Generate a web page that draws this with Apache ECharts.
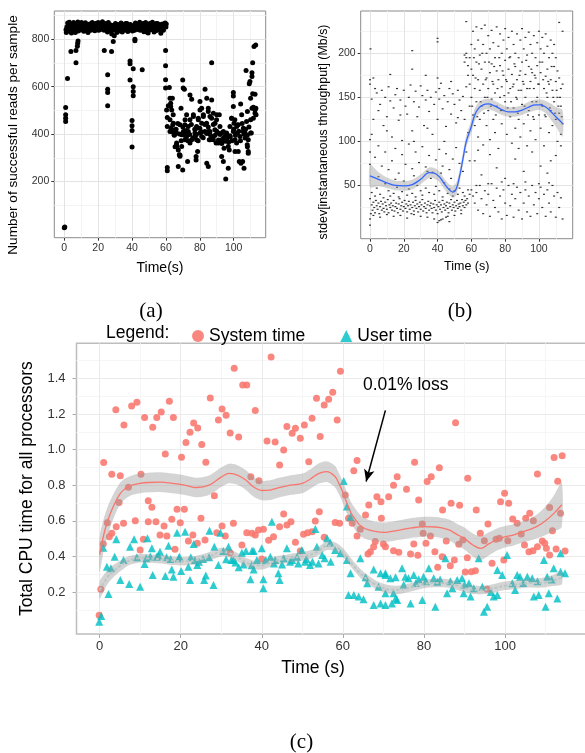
<!DOCTYPE html>
<html>
<head>
<meta charset="utf-8">
<script src="https://cdn.jsdelivr.net/npm/echarts@6/dist/echarts.min.js"></script>
<style>
html, body { margin: 0; padding: 0; background: #fff; }
#chart { width: 585px; height: 753px; }
</style>
</head>
<body>
<div id="chart"></div>
<script>
// ---- panel (a): successful reads per sample ----
var aBand = [[1,840],[1.5,852],[2,868],[2.5,835],[3,872],[3.5,848],[4,862],[4.5,838],[5,855],[5.5,870],[6,845],[6.5,828],[7,860],[7.5,842],[8,873],[8.5,851],[9,866],[9.5,839],[10,857],[10.5,846],[11,862],[11.5,834],[12,855],[12.5,869],[13,841],[13.5,858],[14,828],[14.5,850],[15,864],[15.5,838],[16,853],[16.5,871],[17,845],[17.5,860],[18,836],[18.5,866],[19,850],[19.5,842],[20,870],[20.5,856],[21,840],[21.5,863],[22,848],[22.5,874],[23,852],[23.5,838],[24,866],[24.5,845],[25,858],[25.5,830],[26,870],[26.5,849],[27,836],[27.5,860],[28,822],[28.5,845],[29,858],[29.5,815],[30,840],[30.5,852],[31,828],[31.5,862],[32,846],[32.5,835],[33,856],[33.5,868],[34,842],[34.5,850],[35,861],[35.5,838],[36,855],[36.5,845],[37,866],[37.5,833],[38,858],[38.5,848],[39,862],[39.5,840],[40,853],[40.5,845],[41,858],[41.5,838],[42,868],[42.5,850],[43,842],[43.5,863],[44,855],[44.5,872],[45,838],[45.5,858],[46,847],[46.5,866],[47,832],[47.5,855],[48,870],[48.5,843],[49,857],[49.5,826],[50,851],[50.5,866],[51,840],[51.5,858],[52,872],[52.5,845],[53,830],[53.5,860],[54,848],[54.5,837],[55,866],[55.5,852],[56,841],[56.5,862],[57,825],[57.5,850],[58,864],[58.5,838],[59,856],[59.5,868],[60,852],
  [1.2,828],[2.2,846],[3.2,858],[4.2,826],[5.2,840],[6.2,862],[8.2,835],[10.2,870],[12.2,836],[14.2,848],[16.2,840],[18.2,855],[20.2,838],[22.2,860],[24.2,852],[26.2,842],[28.2,838],[30.2,866],[32.2,858],[34.2,830],[36.2,866],[38.2,842],[40.2,835],[42.2,846],[44.2,840],[46.2,858],[48.2,832],[50.2,840],[52.2,858],[54.2,866],[56.2,852],[58.2,846],[60.2,864]];
var aStray = [[0,5],[0.3,8],[0.8,512],[0.8,481],[0.8,467],[0.8,453],[1.9,634],[3.9,748],[6.9,752],[6.9,701],[7.7,770],[7.9,783],[8.1,793],[23.6,752],[27.9,748],[25.6,650],[25.6,589],[25.6,575],[25.6,519],[28.9,790],[38.8,708],[38.8,697],[40.7,675],[46,671],[38.8,628],[40.7,600],[40.7,580],[40.7,562],[40,457],[40,435],[40,415],[40,345],[41.7,800],[41.7,794],[59.8,752],[59.8,688],[59.8,629],[59.8,594],[62,596],[60.8,470],[60.8,432],[60.8,259],[60.8,245]];
var aCloud = [[62.4,551],[62.8,530],[61.4,519],[60.4,502],[63.4,502],[62.4,460],[64.4,446],[63.4,411],[65.4,418],[66.3,404],[64.8,397],[65.4,347],[66.3,355],[67.3,333],[68.3,312],[67.3,263],[69.9,249],[68.9,509],[69.9,628],[70.9,589],[68.3,439],[69.3,397],[70.3,411],[71.3,376],[71.3,460],[72.2,404],[73.2,432],[72.8,284],[74.2,565],[75.2,547],[74.2,362],[76.2,481],[77.2,390],[77.8,305],[77.8,291],[78.1,425],[78.7,326],[80.1,537],[81.1,509],[79.1,460],[80.1,404],[82.1,481],[83.1,589],[84.1,551],[84.1,277],[85,263],[85,509],[86,474],[87,701],[87,544],[88,488],[89,446],[90,481],[91.5,481],[85,411],[86,376],[88,390],[89.6,362],[90.9,362],[92.9,404],[92.9,305],[93.9,284],[94.3,340],[95.3,211],[96.8,256],[95.9,378],[97.8,393],[97.4,333],[98.8,467],[99.8,516],[99.8,575],[99.8,561],[100.2,446],[100.8,376],[100.8,326],[101.8,432],[102.2,404],[102.7,326],[103.3,284],[104.1,527],[104.3,277],[105.3,284],[105.7,411],[106.7,383],[106.1,256],[107.3,668],[108.1,495],[108.1,347],[108.6,326],[108.6,319],[109.2,612],[109.6,622],[110,551],[110.4,404],[110.8,643],[110.8,659],[111.2,570],[111.2,701],[111.6,513],[112,769],[113,776],[112.6,502],[113.2,481],[112.6,568],
  [63.8,551],[62.8,516],[64.3,481],[62.4,411],[65.3,407],[66.3,362],[66.3,348],[67.9,313],[68.3,306],[69.3,348],[70.2,594],[71.2,439],[72.2,481],[72.2,390],[73.2,411],[74.2,460],[75.2,376],[76.2,474],[77.1,404],[78.1,432],[78.1,376],[79.1,467],[80.1,502],[81.1,446],[81.1,390],[82.1,474],[83,411],[84,446],[85,495],[85.6,376],[86,411],[87,467],[88,376],[88.9,418],[89.9,460],[90.9,404],[91.9,432],[92.9,376],[93.9,411],[94.8,390],[95.8,404],[96.8,348],[97.8,432],[98.8,467],[99.8,411],[100.7,460],[101.7,362],[102.7,439],[103.7,390],[104.7,481],[105.7,425],[106.7,404],[107.6,453],[108.6,376],[108,355],[110,404],[110.8,509],[111.6,467],[112.6,488],[113.1,509],
  [63,425],[64,438],[65,395],[66,420],[67,445],[68,400],[69,372],[70,430],[71,395],[72,415],[73,372],[74,398],[75,440],[76,385],[77,420],[78,398],[79,372],[80,425],[81,410],[82,385],[83,440],[84,402],[85,430],[86,398],[87,385],[88,440],[89,395],[90,412],[91,375],[92,398],[93,360],[94,382],[95,370],[96,395],[97,365],[98,388],[99,372],[100,420],[101,395],[102,438],[103,412],[104,372],[105,445],[106,400],[107,420],[108,395],[109,430],[110,460]];
var aTicksX = [0, 20, 40, 60, 80, 100];
var aMinorX = [10, 30, 50, 70, 90, 110];
var aTicksY = [200, 400, 600, 800];
var aMinorY = [100, 300, 500, 700, 900];

// ---- panel (b): stdev of instantaneous throughput ----
var bLow = [[1,28],[1.5,22],[2,31],[2.5,25],[3,19],[3.5,33],[4,27],[4.5,23],[5,30],[5.5,18],[6,26],[6.5,32],[7,22],[7.5,29],[8,24],[8.5,20],[9,31],[9.5,27],[10,23],[10.5,34],[11,19],[11.5,28],[12,25],[12.5,30],[13,22],[13.5,27],[14,33],[14.5,21],[15,26],[15.5,30],[16,24],[16.5,19],[17,29],[17.5,35],[18,23],[18.5,27],[19,31],[19.5,21],[20,26],[20.5,33],[21,24],[21.5,29],[22,20],[22.5,27],[23,32],[23.5,23],[24,28],[24.5,18],[25,25],[25.5,31],[26,21],[26.5,27],[27,33],[27.5,24],[28,29],[28.5,20],[29,26],[29.5,31],[30,23],[30.5,28],[31,34],[31.5,21],[32,26],[32.5,30],[33,24],[33.5,19],[34,28],[34.5,32],[35,22],[35.5,27],[36,30],[36.5,24],[37,19],[37.5,29],[38,25],[38.5,33],[39,22],[39.5,28],[40,18],[40.5,26],[41,31],[41.5,23],[42,28],[42.5,20],[43,33],[43.5,25],[44,29],[44.5,22],[45,27],[45.5,31],[46,24],[46.5,19],[47,30],[47.5,26],[48,34],[48.5,22],[49,28],[49.5,25],[50,31],[50.5,21],[51,27],[51.5,33],[52,24],[52.5,29],[53,26],[53.5,30],[54,22],[54.5,34],[55,27],[55.5,31],[56,25],[56.5,33],[57,28],[57.5,35],[58,30],[2,16],[6,14],[10,17],[14,15],[18,16],[22,13],[26,17],[30,15],[34,14],[38,12],[42,11],[46,15],[50,16],[54,18],
  [0,5],[0,12],[0.5,18],[40,8],[41,10],[43,12],[45,14],[47,9]];
var bMid = [[0,35],[1,42],[3,38],[4,47],[6,40],[8,36],[9,52],[11,44],[12,38],[14,41],[16,48],[17,37],[19,43],[20,55],[22,39],[23,46],[25,41],[27,37],[28,50],[30,44],[31,39],[33,47],[35,42],[36,58],[38,40],[39,49],[41,44],[43,37],[44,53],[46,41],[47,46],[49,38],[50,44],[52,40],[53,47],[55,42],[56,38],[58,45],[59,40],[5,60],[15,57],[26,61],[34,66],[42,64],[48,58],
  [0,165],[1,148],[2,172],[3,160],[4,155],[5,135],[6,142],[7,158],[8,118],[9,150],[10,128],[11,162],[12,146],[13,105],[14,138],[15,153],[16,160],[17,124],[18,147],[19,101],[20,158],[21,140],[22,131],[23,150],[24,164],[25,112],[26,145],[27,157],[28,128],[29,139],[30,163],[31,152],[32,118],[33,147],[34,158],[35,134],[36,150],[37,108],[38,142],[39,156],[40,125],[41,148],[42,166],[43,137],[44,152],[45,117],[46,145],[47,160],[48,131],[49,154],[50,142],[51,121],[52,158],[53,147],[54,135],[55,151],[56,125],[57,162],[58,110],[59,140],
  [1,108],[3,82],[5,95],[7,72],[9,88],[11,68],[13,78],[15,92],[17,64],[19,85],[21,74],[23,97],[25,69],[27,88],[29,76],[31,94],[33,71],[35,84],[37,65],[39,79],[41,91],[43,72],[45,86],[47,68],[49,80],[51,93],[53,75],[55,66],[57,88],[59,78],[2,125],[10,112],[18,130],[26,100],[34,115],[44,100],[52,127],[0,102],[0,88],[0,74],[0,170],
  [0.3,205],[25,203],[25,182],[40,217],[40,213],[40,172],[41,160],[33,175],[12,176],[48,168],[56,198],[57,195]];
var bHigh = [[56,190],[57,236],[57,200],[58,186],[58,175],[59,195],[59,165],[60,210],[60,182],[60,150],[61,225],[61,175],[61,130],[62,205],[62,160],[62,118],[63,230],[63,190],[63,145],[64,215],[64,170],[64,105],[65,198],[65,158],[65,125],[66,228],[66,182],[66,140],[67,210],[67,165],[67,96],[68,232],[68,190],[68,150],[69,200],[69,172],[69,118],[70,220],[70,160],[70,135],[71,205],[71,178],[71,102],[72,226],[72,188],[72,148],[73,212],[73,165],[73,125],[74,195],[74,155],[74,110],[75,230],[75,180],[75,140],[76,208],[76,170],[76,92],[77,222],[77,186],[77,150],[78,200],[78,162],[78,120],[79,215],[79,175],[79,135],[80,228],[80,192],[80,145],[81,205],[81,168],[81,108],[82,218],[82,182],[82,155],[83,196],[83,160],[83,128],[84,225],[84,176],[84,98],[85,210],[85,165],[85,138],[86,200],[86,185],[86,115],[87,222],[87,170],[87,148],[88,195],[88,158],[88,125],[89,215],[89,180],[89,105],[90,228],[90,190],[90,142],[91,205],[91,165],[91,120],[92,218],[92,176],[92,150],[93,198],[93,160],[93,95],[94,224],[94,185],[94,135],[95,210],[95,168],[95,112],[96,200],[96,178],[96,145],[97,220],[97,160],[97,125],[98,195],[98,172],[98,102],[99,212],[99,186],[99,150],[100,225],[100,165],[100,130],[101,205],[101,178],[101,115],[102,218],[102,190],[102,140],[103,200],[103,160],[103,95],[104,222],[104,174],[104,128],[105,208],[105,182],[105,150],[106,195],[106,165],[106,110],[107,215],[107,170],[107,135],[108,200],[108,158],[108,118],[109,210],[109,185],[109,145],[110,195],[110,168],[110,125],[111,180],[111,150],[111,100],[112,235],[112,172],[112,132],[113,160],[113,140],[113,108],[114,225],[114,165],[114,120],
  [60.5,140],[61.5,195],[62.5,172],[63.5,128],[64.5,188],[65.5,145],[66.5,200],[67.5,132],[68.5,170],[69.5,150],[70.5,190],[71.5,140],[72.5,168],[73.5,185],[74.5,130],[75.5,160],[76.5,195],[77.5,135],[78.5,180],[79.5,152],[80.5,170],[81.5,138],[82.5,195],[83.5,145],[84.5,162],[85.5,188],[86.5,150],[87.5,132],[88.5,175],[89.5,158],[90.5,168],[91.5,140],[92.5,192],[93.5,130],[94.5,160],[95.5,182],[96.5,128],[97.5,175],[98.5,145],[99.5,165],[100.5,190],[101.5,142],[102.5,170],[103.5,130],[104.5,155],[105.5,168],[106.5,138],[107.5,185],[108.5,150],[109.5,132],[110.5,158],[111.5,140],[112.5,150],[113.5,128],
  [62,78],[66,62],[71,85],[75,70],[80,58],[86,80],[91,66],[96,88],[101,72],[105,64],[110,84],[113,95],[64,90],[88,92],[107,78],
  [60,45],[61,38],[62,30],[63,42],[64,22],[65,50],[66,35],[67,18],[68,44],[69,28],[70,40],[71,15],[72,52],[73,33],[74,25],[75,47],[76,20],[77,38],[78,12],[79,45],[80,30],[81,16],[82,50],[83,27],[84,40],[85,14],[86,35],[87,48],[88,22],[89,42],[90,12],[91,30],[92,45],[93,20],[94,38],[95,15],[96,50],[97,28],[98,42],[99,18],[100,35],[101,48],[102,25],[103,40],[104,15],[105,45],[106,30],[107,20],[108,50],[109,38],[110,14],[111,42],[112,25],[113,36],[114,12],[63,50],[70,52],[78,54],[85,52],[92,54],[100,52],[106,53]];
var bSmoothX = [0,5,10,15,20,25,30,35,38,41,44,47,49,51,53,55,57,60,62,64,67,70,74,78,82,86,90,94,98,101,104,107,110,114];
var bSmoothY = [61,57,53,50,49.5,51,57,64.5,64,60,52,45,42.5,46,60,80,100,117,130,137,141.5,142.5,140,136,133.5,133.5,135.5,139,141.5,141.5,139,134,128,120.5];
var bBandW = [13,8,6,5.5,5.5,5.5,5.5,6,6,6,6,6,6.5,7,7,7,7,7,7,6.5,6,6,6,6,5.5,5.5,5.5,6,6,6,7,9,11,15];
var bTicksX = [0, 20, 40, 60, 80, 100];
var bMinorX = [10, 30, 50, 70, 90, 110];
var bTicksY = [50, 100, 150, 200];
var bMinorY = [25, 75, 125, 175, 225];

// ---- panel (c): CPU time ----
var cSystem = [[-0.1,0.07],[0.3,0.215],[0.9,0.47],[1,0.927],[1.9,0.589],[2.4,0.51],[3,0.53],[3,0.861],[4,1.224],[4.1,0.567],[4.8,0.702],[5.1,0.853],[5.9,0.586],[6,1.138],[7.1,0.788],[7.9,1.245],[8.8,0.60],[9.2,1.266],[10,0.436],[10.2,0.861],[10.8,0.496],[11.1,1.18],[12,0.713],[12,0.595],[12.9,0.676],[13.1,1.125],[13.9,0.595],[14.1,1.18],[14.9,0.52],[15.2,1.211],[15.9,0.57],[16.2,0.975],[16.6,0.515],[17.2,1.271],[17.8,0.608],[18.2,1.18],[18.6,0.44],[19.1,0.665],[19.9,0.589],[20.2,0.957],[20.9,0.665],[21.3,1.04],[21.9,0.486],[22.3,1.097],[23,0.52],[23.2,1.149],[24.1,0.474],[24.2,1.121],[25,0.614],[25.2,1.028],[26,0.492],[26.2,0.929],[27.3,1.29],[28.3,0.74],[28.9,0.533],[29.3,1.166],[30.2,0.57],[30.2,1.228],[31,0.515],[31.2,1.193],[32.2,1.093],[32.2,0.421],[33,0.586],[33.2,1.457],[34.3,1.071],[35.1,0.464],[35.3,1.363],[36.3,1.363],[36.3,0.533],[37.3,0.848],[37.6,0.53],[38.4,1.22],[38.4,0.52],[39.2,0.548],[39.3,0.825],[40,0.385],[40.4,0.552],[41.3,1.048],[41.7,0.49],[42.3,1.52],[42.9,0.51],[43.3,1.043],[44.4,0.913],[44.4,0.567],[45.4,0.998],[45.4,0.638],[46.2,1.129],[46.2,0.576],[47.2,0.595],[47.5,1.092],[48.3,1.12],[48.3,0.479],[49.5,1.063],[49.5,0.43],[50.3,0.524],[50.5,1.138],[51.3,0.533],[51.6,0.932],[52.4,1.176],[52.4,0.539],[53.2,0.599],[53.5,1.288],[54.2,0.651],[54.4,1.073],[55.4,1.25],[55.4,0.507],[56.5,1.283],[57.5,1.322],[58.1,0.59],[58.6,1.166],[59.2,0.586],[59.4,1.44],[60.6,0.745],[61.4,0.614],[62.3,0.586],[62.7,0.881],[63.5,0.938],[63.5,0.515],[64.3,0.552],[65.6,0.633],[66.2,0.413],[66.4,0.689],[66.8,0.426],[67.6,0.454],[68,0.483],[68.4,0.735],[69.4,0.707],[69.5,0.614],[70,0.47],[70.5,0.454],[71.3,0.735],[72.5,0.80],[72.5,0.432],[73.4,0.848],[73.8,0.423],[75.7,0.777],[76.7,0.413],[77.5,0.47],[77.7,0.929],[78.5,0.406],[78.7,0.717],[79.6,0.582],[79.8,0.53],[80.5,0.474],[80.8,0.82],[81.6,0.515],[81.8,0.848],[82.7,0.426],[83.4,0.339],[83.8,0.898],[84.5,0.398],[84.6,0.661],[85.5,0.486],[86.5,0.348],[86.7,0.698],[87.5,0.38],[87.8,1.151],[88.6,0.468],[88.8,0.687],[89.6,0.492],[90.2,0.312],[90.7,0.393],[90.8,0.839],[91.7,0.314],[92.7,0.32],[92.9,0.661],[93.9,0.53],[94.9,0.488],[95.6,0.215],[95.8,0.582],[96.8,0.361],[97.8,0.496],[98.6,0.502],[98.9,0.707],[99.7,0.38],[99.9,0.754],[100.7,0.488],[100.9,0.698],[101.9,0.61],[103,0.586],[104,0.526],[104.8,0.464],[105.1,0.614],[105.9,0.426],[106.1,0.642],[106.9,0.432],[107,0.60],[108,0.863],[108,0.454],[109.2,0.486],[109.8,0.474],[110.2,0.445],[111,0.674],[111,0.408],[111.7,0.544],[112.1,0.955],[112.6,0.442],[113,0.822],[113.7,0.642],[114.1,0.966],[114.8,0.43]];
var cUser = [[-0.1,0.033],[0.4,0.065],[0.9,0.449],[1.8,0.342],[2.2,0.189],[2.8,0.333],[3.7,0.398],[4.1,0.496],[5.1,0.267],[5.9,0.38],[7.3,0.245],[7.5,0.454],[8.5,0.496],[9.2,0.395],[10,0.23],[11.1,0.357],[11.8,0.502],[12.9,0.445],[13.1,0.296],[14.1,0.398],[14.9,0.426],[16.2,0.29],[17,0.46],[17.8,0.327],[18.2,0.286],[19.1,0.533],[19.7,0.398],[20.1,0.318],[21.1,0.539],[21.9,0.342],[22.3,0.267],[23.2,0.47],[24.1,0.352],[25.8,0.267],[26.2,0.292],[27.1,0.544],[28.1,0.239],[28.3,0.454],[29.3,0.352],[29.8,0.533],[31.2,0.384],[31.8,0.454],[33,0.38],[34.3,0.339],[35.1,0.42],[36.1,0.43],[37.2,0.271],[38,0.43],[38.8,0.38],
  [11.5,0.39],[12.5,0.40],[14.5,0.405],[16.5,0.395],[17.5,0.385],[19.5,0.39],[22.5,0.395],[23.5,0.38],[24.5,0.37],[25.5,0.385],[27,0.395],[30.5,0.43],[32.5,0.38],[33.5,0.365],[35.5,0.355],[37.5,0.35],
  [37.6,0.432],[38,0.327],[40,0.445],[40.4,0.271],[40.4,0.221],[42.1,0.398],[42.5,0.595],[43.3,0.38],[44.1,0.305],[44.4,0.267],[45.4,0.389],[46.2,0.445],[47.5,0.38],[48.7,0.398],[49.9,0.436],[50.7,0.37],[51.9,0.352],[53.2,0.554],[53.6,0.454],[54.9,0.408],[56.1,0.502],[56.9,0.477],[58.1,0.436],[59.4,0.417],[60.2,0.824],[61,0.68],[61.9,0.623],[61,0.38],[61.9,0.305],[61.4,0.183],[62.7,0.183],[63.9,0.174],[65.1,0.159],[64.3,0.389],[65.6,0.283],[66,0.249],[67.6,0.127],[69.3,0.136],[70.5,0.127],[72.1,0.136],[73.4,0.155],[67.6,0.327],[68.8,0.23],[70.5,0.305],[72.5,0.193],[73,0.283],
  [41,0.38],[43,0.36],[45,0.355],[47,0.37],[49,0.36],[51,0.385],[52.5,0.37],[54,0.36],[55.5,0.39],[57,0.37],
  [69.3,0.305],[70.5,0.296],[71.7,0.277],[74.6,0.333],[75.4,0.286],[76.2,0.277],[77.5,0.296],[78.7,0.271],[79.9,0.286],[81.2,0.333],[82.4,0.277],[83.3,0.258],[85.3,0.389],[87,0.221],[88.2,0.267],[89.4,0.277],[91.1,0.249],[92.3,0.221],[93.5,0.389],[94.4,0.23],[95.6,0.117],[94.8,0.089],[97.2,0.174],[98.1,0.183],[99.3,0.296],[100.5,0.408],[101.8,0.249],[102.5,0.211],[103.7,0.286],[105.5,0.286],[107.1,0.174],[108.3,0.183],[109.6,0.38],[110,0.117],[110.8,0.193],[112,0.333],[112.9,0.164],[113.7,0.417],[114.8,0.305],[70.5,0.193],[73,0.164],[76.7,0.136],[79.6,0.155],[82.8,0.117],[85.7,0.193],[89.8,0.193],[91.5,0.174],[98.1,0.324],[103,0.296],[106.7,0.277],[110.4,0.286],[113.7,0.314],
  [75,0.24],[78,0.25],[80.5,0.26],[84,0.27],[86.5,0.26],[90,0.24],[96.5,0.2],[104.5,0.25],[108,0.26],[111.5,0.27]];
var cSmoothX = [0,1,2,3,4,5,6,7,8,10,12,15,18,21,24,27,30,32,34,36,38,40,42,44,47,50,52,54,56,58,59,60,61,62,63,64,65,66,68,70,72,74,77,80,83,86,88,90,92,94,96,98,100,102,104,106,108,110,112,114];
var cSysSmooth = [0.41,0.52,0.60,0.66,0.71,0.75,0.775,0.79,0.80,0.81,0.815,0.817,0.81,0.80,0.787,0.80,0.845,0.866,0.857,0.83,0.79,0.77,0.772,0.785,0.80,0.81,0.835,0.865,0.876,0.85,0.81,0.76,0.70,0.645,0.61,0.58,0.562,0.552,0.54,0.535,0.54,0.548,0.56,0.567,0.565,0.55,0.525,0.50,0.465,0.445,0.47,0.495,0.51,0.52,0.535,0.55,0.57,0.60,0.64,0.69];
var cSysBandW = [0.10,0.09,0.08,0.072,0.066,0.062,0.058,0.056,0.055,0.055,0.055,0.055,0.055,0.055,0.055,0.055,0.055,0.055,0.055,0.055,0.055,0.055,0.055,0.055,0.055,0.055,0.055,0.057,0.058,0.06,0.06,0.06,0.06,0.06,0.06,0.06,0.058,0.057,0.055,0.055,0.055,0.055,0.055,0.056,0.056,0.058,0.06,0.062,0.065,0.066,0.065,0.062,0.06,0.06,0.06,0.062,0.068,0.08,0.10,0.125];
var cUsrSmooth = [0.21,0.25,0.285,0.31,0.328,0.345,0.36,0.373,0.382,0.39,0.388,0.384,0.376,0.373,0.38,0.40,0.424,0.418,0.395,0.368,0.352,0.35,0.365,0.378,0.39,0.40,0.41,0.43,0.46,0.455,0.442,0.422,0.395,0.365,0.338,0.312,0.29,0.272,0.242,0.222,0.212,0.213,0.228,0.245,0.25,0.248,0.237,0.222,0.212,0.21,0.215,0.225,0.235,0.24,0.245,0.25,0.25,0.255,0.265,0.28];
var cUsrBandW = [0.05,0.045,0.04,0.036,0.032,0.03,0.028,0.026,0.025,0.024,0.024,0.024,0.024,0.024,0.024,0.024,0.024,0.024,0.024,0.024,0.024,0.024,0.024,0.024,0.024,0.024,0.024,0.024,0.025,0.025,0.025,0.025,0.025,0.025,0.025,0.025,0.025,0.025,0.024,0.024,0.024,0.024,0.024,0.024,0.024,0.024,0.024,0.024,0.024,0.024,0.024,0.024,0.024,0.024,0.024,0.025,0.026,0.028,0.032,0.037];
var cTicksX = [0, 20, 40, 60, 80, 100];
var cMinorX = [10, 30, 50, 70, 90, 110];
var cTicksY = [0.2, 0.4, 0.6, 0.8, 1.0, 1.2, 1.4];
var cMinorY = [0.1, 0.3, 0.5, 0.7, 0.9, 1.1, 1.3, 1.5];
var cArrow = [[70.5, 1.22], [65.74, 0.821]];

var FONT = 'Liberation Sans';
var chart = echarts.init(document.getElementById('chart'), null, { renderer: 'canvas' });

// grid lines as markLines so they sit on exact data values
function gridMarks(tx, mx, ty, my, major, minor) {
    var d = [];
    mx.forEach(function (v) { d.push({ xAxis: v, lineStyle: { color: minor, width: 1, type: 'solid' } }) })
    my.forEach(function (v) { d.push({ yAxis: v, lineStyle: { color: minor, width: 1, type: 'solid' } }) })
    tx.forEach(function (v) { d.push({ xAxis: v, lineStyle: { color: major, width: 1, type: 'solid' } }) })
    ty.forEach(function (v) { d.push({ yAxis: v, lineStyle: { color: major, width: 1, type: 'solid' } }) })
    return { silent: true, z: 1, symbol: ['none', 'none'], label: { show: false }, emphasis: { disabled: true }, animation: false, data: d }
}

function bandSeries(gi, xs, ys, ws, z) {
    return {
        type: 'custom', xAxisIndex: gi, yAxisIndex: gi, z: z, silent: true, data: [0],
        renderItem: function (params, api) {
            var pts = [];
            for (var i = 0; i < xs.length; i++) pts.push(api.coord([xs[i], ys[i] + ws[i]]));
            for (var j = xs.length - 1; j >= 0; j--) pts.push(api.coord([xs[j], ys[j] - ws[j]]));
            return { type: 'polygon', shape: { points: pts, smooth: 0.25 }, style: { fill: '#999999', opacity: 0.42 } };
        }
    }
}

function zip(xs, ys) { return xs.map(function (x, i) { return [x, ys[i]] }) }

function xAxisOf(gi, min, max, ticks, o) {
    return {
        gridIndex: gi, type: 'value', min: min, max: max,
        axisLine: { show: false, onZero: false }, splitLine: { show: false },
        axisTick: { show: true, customValues: ticks, length: o.tick, lineStyle: { color: o.tickColor, width: 1 } },
        axisLabel: { customValues: ticks, fontSize: o.fs, color: '#333', margin: o.margin, fontFamily: FONT },
        name: o.name, nameLocation: 'middle', nameGap: o.gap,
        nameTextStyle: { fontSize: o.nfs, color: '#000', fontFamily: FONT }
    }
}
function yAxisOf(gi, min, max, ticks, o) {
    var a = xAxisOf(gi, min, max, ticks, o);
    a.axisLabel.formatter = o.fmt;
    a.nameRotate = 90;
    return a;
}

var option = {
    animation: false,
    backgroundColor: '#fff',
    textStyle: { fontFamily: FONT },
    grid: [
        { left: 54.3, top: 11, width: 211.4, height: 226.7, show: true, borderColor: '#8a8a8a', borderWidth: 1, backgroundColor: '#fff', containLabel: false, outerBoundsMode: 'none' },
        { left: 360.7, top: 11, width: 212, height: 227.7, show: true, borderColor: '#8a8a8a', borderWidth: 1, backgroundColor: '#fff', containLabel: false, outerBoundsMode: 'none' },
        { left: 76.5, top: 343.3, width: 510, height: 290.7, show: true, borderColor: '#bdbdbd', borderWidth: 1.5, backgroundColor: '#fff', containLabel: false, outerBoundsMode: 'none' }
    ],
    xAxis: [
        xAxisOf(0, -5.9, 118.9, aTicksX, { tick: 3, tickColor: '#333', fs: 10.5, margin: 5, name: 'Time(s)', gap: 23, nfs: 14 }),
        xAxisOf(1, -5.5, 120, bTicksX, { tick: 3, tickColor: '#333', fs: 10.5, margin: 5, name: 'Time (s)', gap: 21, nfs: 12.5 }),
        xAxisOf(2, -5.7, 120.1, cTicksX, { tick: 4, tickColor: '#aaa', fs: 13, margin: 6, name: '', gap: 0, nfs: 13 })
    ],
    yAxis: [
        yAxisOf(0, -37, 919, aTicksY, { tick: 3, tickColor: '#333', fs: 10.5, margin: 5, name: '', gap: 0, nfs: 14 }),
        yAxisOf(1, -10.4, 248, bTicksY, { tick: 3, tickColor: '#333', fs: 10.5, margin: 5, name: '', gap: 0, nfs: 12.5 }),
        yAxisOf(2, -0.036, 1.597, cTicksY, { tick: 4, tickColor: '#aaa', fs: 13, margin: 11, name: 'Total CPU time for all processors', gap: 38, nfs: 17.5,
            fmt: function (v) { return v.toFixed(1) } })
    ],
    legend: {
        left: 187, top: 322, itemWidth: 12, itemHeight: 12, itemGap: 35,
        textStyle: { fontSize: 17.5, color: '#000', fontFamily: FONT },
        selectedMode: false,
        data: [{ name: 'System time', icon: 'circle' }, { name: 'User time', icon: 'triangle' }]
    },
    graphic: [
        { type: 'text', x: 13.5, y: 135, rotation: Math.PI / 2, style: { text: 'Number of successful reads per sample', font: '13.6px "Liberation Sans"', fill: '#000', align: 'center', verticalAlign: 'middle' } },
        { type: 'text', x: 323.5, y: 132, rotation: Math.PI / 2, style: { text: 'stdev[instantaneous throughput] (Mb/s)', font: '12.4px "Liberation Sans"', fill: '#000', align: 'center', verticalAlign: 'middle' } },
        { type: 'text', x: 151, y: 311, style: { text: '(a)', font: '21px "Liberation Serif"', fill: '#000', align: 'center', verticalAlign: 'middle' } },
        { type: 'text', x: 460, y: 311, style: { text: '(b)', font: '21px "Liberation Serif"', fill: '#000', align: 'center', verticalAlign: 'middle' } },
        { type: 'text', x: 301.5, y: 742, style: { text: '(c)', font: '21px "Liberation Serif"', fill: '#000', align: 'center', verticalAlign: 'middle' } },
        { type: 'text', x: 106, y: 333, style: { text: 'Legend:', font: '17.5px "Liberation Sans"', fill: '#000', align: 'left', verticalAlign: 'middle' } },
        { type: 'text', x: 363, y: 385, z: 20, style: { text: '0.01% loss', font: '17.5px "Liberation Sans"', fill: '#000', align: 'left', verticalAlign: 'middle' } },
        { type: 'text', x: 313, y: 668, style: { text: 'Time (s)', font: '17.5px "Liberation Sans"', fill: '#000', align: 'center', verticalAlign: 'middle' } }
    ],
    series: [
        {
            name: 'reads', type: 'scatter', xAxisIndex: 0, yAxisIndex: 0, z: 2,
            symbolSize: 5, itemStyle: { color: '#000', opacity: 1 },
            data: aBand.concat(aStray, aCloud),
            markLine: gridMarks(aTicksX, aMinorX, aTicksY, aMinorY, '#e3e3e3', '#f3f3f3')
        },
        {
            name: 'stdev', type: 'scatter', xAxisIndex: 1, yAxisIndex: 1, z: 2,
            symbol: 'rect', symbolSize: [2, 1.2], itemStyle: { color: '#333', opacity: 1 },
            data: bLow.concat(bMid, bHigh),
            markLine: gridMarks(bTicksX, bMinorX, bTicksY, bMinorY, '#e3e3e3', '#f3f3f3')
        },
        bandSeries(1, bSmoothX, bSmoothY, bBandW, 3),
        {
            name: 'loess', type: 'line', xAxisIndex: 1, yAxisIndex: 1, z: 4, smooth: 0.4,
            symbol: 'none', lineStyle: { color: '#3366FF', width: 1.3 },
            data: zip(bSmoothX, bSmoothY)
        },
        {
            name: 'System time', type: 'scatter', xAxisIndex: 2, yAxisIndex: 2, z: 2,
            symbol: 'circle', symbolSize: 7, itemStyle: { color: '#F8766D', opacity: 0.88 },
            data: cSystem,
            markLine: gridMarks(cTicksX, cMinorX, cTicksY, cMinorY, '#ebebeb', '#f6f6f6')
        },
        {
            name: 'User time', type: 'scatter', xAxisIndex: 2, yAxisIndex: 2, z: 2,
            symbol: 'triangle', symbolSize: 8, itemStyle: { color: '#00BFC4', opacity: 0.82 },
            data: cUser,
            markLine: {
                silent: true, z: 10, label: { show: false }, emphasis: { disabled: true }, animation: false,
                lineStyle: { color: '#000', width: 1.5, type: 'solid' },
                data: [[
                    { coord: cArrow[0], symbol: 'none' },
                    { coord: cArrow[1], symbol: 'arrow', symbolSize: [8, 12] }
                ]]
            }
        },
        bandSeries(2, cSmoothX, cSysSmooth, cSysBandW, 3),
        bandSeries(2, cSmoothX, cUsrSmooth, cUsrBandW, 3),
        {
            name: 'sysfit', type: 'line', xAxisIndex: 2, yAxisIndex: 2, z: 4, smooth: 0.4,
            symbol: 'none', lineStyle: { color: '#F8766D', width: 1.3 },
            data: zip(cSmoothX, cSysSmooth)
        },
        {
            name: 'usrfit', type: 'line', xAxisIndex: 2, yAxisIndex: 2, z: 4, smooth: 0.4,
            symbol: 'none', lineStyle: { color: '#b9c6c6', width: 2, type: [3, 2] },
            data: zip(cSmoothX, cUsrSmooth)
        }
    ]
};
chart.setOption(option);
</script>
</body>
</html>
